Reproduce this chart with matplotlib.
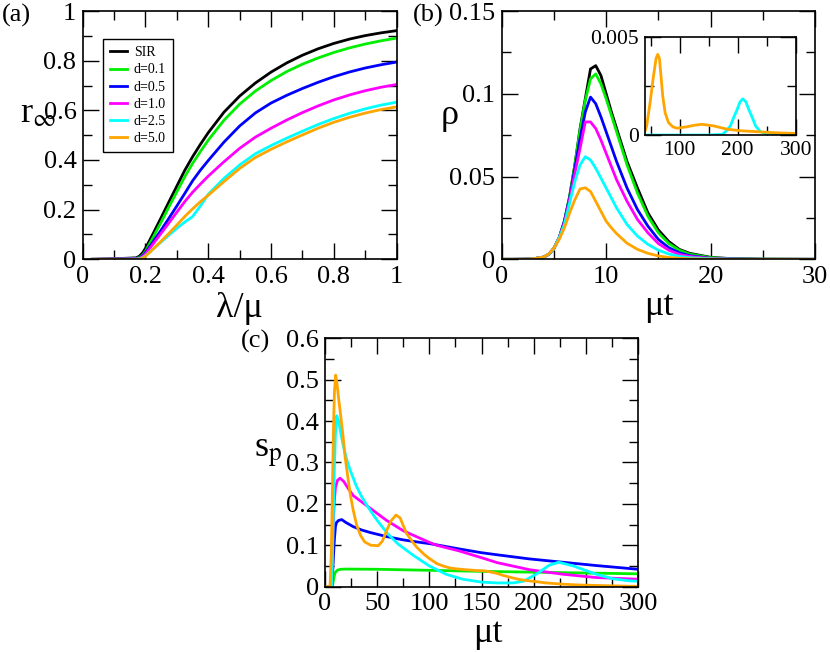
import matplotlib
matplotlib.use('Agg')
import matplotlib.pyplot as plt
from matplotlib.ticker import MultipleLocator, FuncFormatter

plt.rcParams['font.family'] = ['Liberation Serif', 'DejaVu Serif']
plt.rcParams['mathtext.fontset'] = 'stix'

#------------------------------------------------------------------------------
# Data
#------------------------------------------------------------------------------
labels = ['SIR', 'd=0.1', 'd=0.5', 'd=1.0', 'd=2.5', 'd=5.0']
colors = ['black', '#00ee00', '#0000ff', '#ff00ff', '#00ffff', '#ffa500']

# (a) final size r_inf vs lambda/mu
lam = [0.03, 0.1, 0.17, 0.18, 0.19, 0.2, 0.225, 0.25, 0.275, 0.3, 0.325, 0.35,
       0.375, 0.4, 0.45, 0.5, 0.55, 0.6, 0.65, 0.7, 0.75, 0.8, 0.85, 0.9, 0.95, 1.0]
r_sir = [0.0, 0.002, 0.006, 0.012, 0.025, 0.044, 0.105, 0.168, 0.232, 0.295, 0.358, 0.413,
         0.463, 0.51, 0.5925, 0.6575, 0.71, 0.754, 0.791, 0.822, 0.848, 0.8695, 0.887, 0.901, 0.912, 0.921]
r_d01 = [0.0, 0.001, 0.003, 0.007, 0.016, 0.032, 0.09, 0.15, 0.212, 0.272, 0.332, 0.386,
         0.434, 0.48, 0.56, 0.625, 0.6775, 0.72, 0.756, 0.786, 0.811, 0.833, 0.8515, 0.867, 0.88, 0.891]
r_d05 = [0.0, 0.001, 0.002, 0.005, 0.013, 0.027, 0.072, 0.118, 0.166, 0.215, 0.265, 0.316,
         0.359, 0.398, 0.472, 0.537, 0.5895, 0.6295, 0.6605, 0.688, 0.713, 0.7355, 0.7545, 0.7705, 0.7835, 0.7945]
r_d10 = [0.0, 0.001, 0.002, 0.004, 0.01, 0.022, 0.063, 0.105, 0.147, 0.19, 0.232, 0.27,
         0.303, 0.335, 0.393, 0.447, 0.492, 0.528, 0.561, 0.591, 0.618, 0.642, 0.662, 0.679, 0.693, 0.704]
r_d25 = [0.0, 0.0, 0.001, 0.002, 0.006, 0.014, 0.042, 0.07, 0.098, 0.125, 0.15, 0.172,
         0.215, 0.262, 0.326, 0.38, 0.425, 0.458, 0.488, 0.516, 0.543, 0.567, 0.588, 0.606, 0.621, 0.633]
r_d50 = [0.0, 0.0, 0.0, 0.001, 0.004, 0.012, 0.042, 0.073, 0.105, 0.138, 0.172, 0.203,
         0.232, 0.258, 0.313, 0.366, 0.41, 0.443, 0.473, 0.501, 0.528, 0.552, 0.572, 0.589, 0.603, 0.614]

# (b) density rho vs mu t
t_b = [0, 1, 2, 3, 4, 4.5, 5, 5.5, 6, 6.5, 7, 7.5, 8, 8.5, 9, 9.5, 10, 10.5, 11,
       12, 13, 14, 15, 16, 17, 18, 20, 22, 25, 30]
rho_sir = [0, 0, 0.00005, 0.0003, 0.0013, 0.003, 0.0066, 0.013, 0.023, 0.038, 0.057, 0.079, 0.097,
           0.115, 0.117, 0.111, 0.1, 0.089, 0.079, 0.059, 0.043, 0.028, 0.0177, 0.0107, 0.006,
           0.0036, 0.0012, 0.0004, 0.0001, 0]
rho_d01 = [0, 0, 0.00005, 0.0003, 0.0013, 0.003, 0.0066, 0.013, 0.023, 0.038, 0.057, 0.078, 0.096,
           0.109, 0.112, 0.106, 0.097, 0.087, 0.077, 0.057, 0.04, 0.026, 0.016, 0.0095, 0.0055,
           0.0031, 0.001, 0.0003, 0.0001, 0]
rho_d05 = [0, 0, 0.00005, 0.0003, 0.0013, 0.003, 0.0066, 0.013, 0.023, 0.037, 0.055, 0.073, 0.089,
           0.098, 0.094, 0.086, 0.077, 0.068, 0.059, 0.043, 0.03, 0.02, 0.012, 0.007, 0.004,
           0.0022, 0.0006, 0.0002, 0, 0]
rho_d10 = [0, 0, 0.00005, 0.0003, 0.0013, 0.003, 0.0066, 0.013, 0.022, 0.036, 0.052, 0.067, 0.083,
           0.083, 0.079, 0.072, 0.064, 0.056, 0.048, 0.035, 0.024, 0.016, 0.0095, 0.0055, 0.003,
           0.0017, 0.0005, 0.0001, 0, 0]
rho_d25 = [0, 0, 0.00005, 0.0003, 0.0013, 0.003, 0.0066, 0.013, 0.021, 0.034, 0.047, 0.057, 0.062,
           0.06, 0.055, 0.049, 0.043, 0.037, 0.031, 0.021, 0.014, 0.009, 0.0055, 0.0032, 0.0018,
           0.001, 0.0003, 0.0001, 0, 0]
rho_d50 = [0, 0, 0.00005, 0.0003, 0.0014, 0.0032, 0.0068, 0.012, 0.019, 0.028, 0.036, 0.0425, 0.0432,
           0.041, 0.035, 0.029, 0.023, 0.019, 0.0155, 0.0097, 0.006, 0.0036, 0.002, 0.0011, 0.0006,
           0.0003, 0.0001, 0, 0, 0]

# (b) inset: late times
t_in_d25 = [40, 150, 172.9, 180, 187.3, 193, 198.9, 204, 208.7, 214, 219.1, 225, 230.7, 238, 245.1, 260, 300]
rho_in_d25 = [0, 0, 0.00003, 0.0002, 0.00047, 0.0009, 0.0013, 0.0017, 0.00185, 0.0017, 0.0013,
              0.0009, 0.00047, 0.0002, 0.0001, 0.00002, 0]
t_in_d50 = [40, 42.9, 48.7, 54.5, 59.1, 62, 64.9, 67.7, 70.6, 74.7, 80.5, 88, 95, 112, 125, 138.2,
            158, 181.6, 204.7, 233.6, 262.5, 300]
rho_in_d50 = [0.0002, 0.00047, 0.00164, 0.00299, 0.00392, 0.00413, 0.00392, 0.00299, 0.002, 0.00114,
              0.00064, 0.00042, 0.00035, 0.00042, 0.0005, 0.00055, 0.00047, 0.0003, 0.00022, 0.00017,
              0.00012, 0.00008]

# (c) s_p vs mu t
t_c_d01 = [0, 7, 8, 9, 10, 12, 15, 20, 50, 100, 150, 200, 250, 300]
s_d01 = [0, 0, 0.015, 0.028, 0.035, 0.04, 0.042, 0.0425, 0.042, 0.0395, 0.037, 0.035, 0.033, 0.031]
t_c_d05 = [0, 6.4, 7, 8, 9, 10, 11, 13, 16, 20, 27, 35, 43, 59, 75, 91, 100, 107, 129, 150, 165,
           196, 228, 260, 300]
s_d05 = [0, 0, 0.02, 0.07, 0.115, 0.145, 0.155, 0.16, 0.162, 0.155, 0.145, 0.137, 0.131, 0.121,
         0.113, 0.107, 0.104, 0.101, 0.091, 0.082, 0.077, 0.067, 0.059, 0.051, 0.042]
t_c_d10 = [0, 5.8, 7, 8, 9, 10, 12, 14.4, 18, 22, 27, 35, 43, 59, 75, 91, 100, 107, 129, 150, 165,
           196, 228, 260, 300]
s_d10 = [0, 0, 0.08, 0.16, 0.21, 0.24, 0.257, 0.262, 0.254, 0.238, 0.22, 0.205, 0.19, 0.16, 0.135,
         0.117, 0.107, 0.1, 0.086, 0.07, 0.058, 0.041, 0.03, 0.022, 0.018]
t_c_d25 = [0, 6.4, 7, 8, 9, 10, 11.2, 13, 15, 17.5, 21, 24, 30, 35, 40, 45, 50, 60, 70, 85, 100,
           116, 132, 150, 165, 180, 190, 203, 215, 224, 238, 260, 276, 292, 300]
s_d25 = [0, 0, 0.05, 0.17, 0.29, 0.37, 0.413, 0.4, 0.372, 0.34, 0.305, 0.282, 0.243, 0.218, 0.197,
         0.178, 0.16, 0.128, 0.103, 0.075, 0.05, 0.03, 0.018, 0.011, 0.009, 0.009, 0.013, 0.031,
         0.052, 0.059, 0.05, 0.03, 0.019, 0.014, 0.013]
t_c_d50 = [0, 4.8, 6, 7, 8, 9, 10.2, 11.5, 13, 14.4, 17, 19.2, 22, 24, 27, 30.4, 34, 38, 44, 51,
           55, 59, 63, 68, 72, 78, 84, 88, 95, 100, 107, 113, 120, 126, 135, 145, 152, 158, 165,
           171, 180, 187, 196, 212, 228, 244, 260, 292, 300]
s_d50 = [0, 0, 0.08, 0.22, 0.37, 0.47, 0.511, 0.49, 0.455, 0.426, 0.37, 0.314, 0.262, 0.226, 0.185,
         0.148, 0.124, 0.108, 0.1, 0.099, 0.11, 0.135, 0.158, 0.173, 0.166, 0.129, 0.108, 0.095,
         0.078, 0.068, 0.056, 0.05, 0.045, 0.043, 0.041, 0.039, 0.0385, 0.036, 0.032, 0.027, 0.021,
         0.017, 0.014, 0.009, 0.006, 0.004, 0.003, 0.001, 0.001]

#------------------------------------------------------------------------------
# Plotting
#------------------------------------------------------------------------------
fmt = FuncFormatter(lambda v, p: '%g' % round(v, 6))


def style(ax, xmaj, xmin, ymaj, ymin, size=19):
    ax.xaxis.set_major_locator(MultipleLocator(xmaj))
    ax.xaxis.set_minor_locator(MultipleLocator(xmin))
    ax.yaxis.set_major_locator(MultipleLocator(ymaj))
    ax.yaxis.set_minor_locator(MultipleLocator(ymin))
    ax.xaxis.set_major_formatter(fmt)
    ax.yaxis.set_major_formatter(fmt)
    ax.tick_params(which='both', direction='in', top=True, right=True, width=1.0,
                   labelsize=size, pad=4.5)
    ax.tick_params(which='major', length=11.5)
    ax.tick_params(which='minor', length=6.5)
    for s in ax.spines.values():
        s.set_linewidth(1.2)


fig = plt.figure(figsize=(8.3, 6.52), dpi=100)
ax_a = fig.add_axes([0.0996, 0.6023, 0.3783, 0.3808])
ax_b = fig.add_axes([0.6045, 0.6023, 0.3775, 0.3808])
ax_c = fig.add_axes([0.3916, 0.1002, 0.3771, 0.3810])
ax_in = fig.add_axes([0.7771, 0.7929, 0.1816, 0.1498])

lw = 2.0

# (a)
for y, c, l in zip([r_sir, r_d01, r_d05, r_d10, r_d25, r_d50], colors, labels):
    ax_a.plot(lam, y, color=c, lw=lw, label=l)
ax_a.set_xlim(0, 1)
ax_a.set_ylim(0, 1)
style(ax_a, 0.2, 0.1, 0.2, 0.1)
leg = ax_a.legend(loc='upper left', bbox_to_anchor=(0.066, 0.886), borderaxespad=0,
                  fontsize=10, handlelength=1.2, handletextpad=0.5, labelspacing=0.3,
                  fancybox=False, framealpha=1, edgecolor='black', borderpad=0.5)
leg.get_frame().set_linewidth(1.0)
ax_a.set_xlabel('λ/μ', fontsize=26, va='baseline')
ax_a.xaxis.set_label_coords(0.5, -0.231)
ax_a.set_ylabel(r'r$_{\infty}$', fontsize=26, rotation=0, ha='left', va='baseline')
ax_a.yaxis.set_label_coords(-0.2, 0.553)

# (b)
for y, c in zip([rho_sir, rho_d01, rho_d05, rho_d10, rho_d25, rho_d50], colors):
    ax_b.plot(t_b, y, color=c, lw=lw)
ax_b.set_xlim(0, 30)
ax_b.set_ylim(0, 0.15)
style(ax_b, 10, 5, 0.05, 0.025)
ax_b.set_xlabel('μt', fontsize=26, va='baseline')
ax_b.xaxis.set_label_coords(0.5, -0.224)
ax_b.set_ylabel('ρ', fontsize=26, rotation=0, ha='left', va='baseline')
ax_b.yaxis.set_label_coords(-0.194, 0.545)

# inset
ax_in.plot(t_in_d25, rho_in_d25, color=colors[4], lw=lw)
ax_in.plot(t_in_d50, rho_in_d50, color=colors[5], lw=lw)
ax_in.set_xlim(40, 300)
ax_in.set_ylim(0, 0.005)
style(ax_in, 100, 50, 0.005, 0.0025, size=15.5)

# (c)
ax_c.plot(t_c_d01, s_d01, color=colors[1], lw=lw)
ax_c.plot(t_c_d05, s_d05, color=colors[2], lw=lw)
ax_c.plot(t_c_d10, s_d10, color=colors[3], lw=lw)
ax_c.plot(t_c_d25, s_d25, color=colors[4], lw=lw)
ax_c.plot(t_c_d50, s_d50, color=colors[5], lw=lw)
ax_c.set_xlim(0, 300)
ax_c.set_ylim(0, 0.6)
style(ax_c, 50, 25, 0.1, 0.05)
ax_c.set_xlabel('μt', fontsize=26, va='baseline')
ax_c.xaxis.set_label_coords(0.52, -0.221)
ax_c.set_ylabel(r's$_{\mathrm{p}}$', fontsize=26, rotation=0, ha='left', va='baseline')
ax_c.yaxis.set_label_coords(-0.227, 0.523)

# panel labels
fig.text(2 / 830, 1 - 22 / 652, '(a)', fontsize=19, va='baseline')
fig.text(413 / 830, 1 - 22 / 652, '(b)', fontsize=19, va='baseline')
fig.text(241 / 830, 1 - 348 / 652, '(c)', fontsize=19, va='baseline')

fig.savefig('out.png', dpi=100)
